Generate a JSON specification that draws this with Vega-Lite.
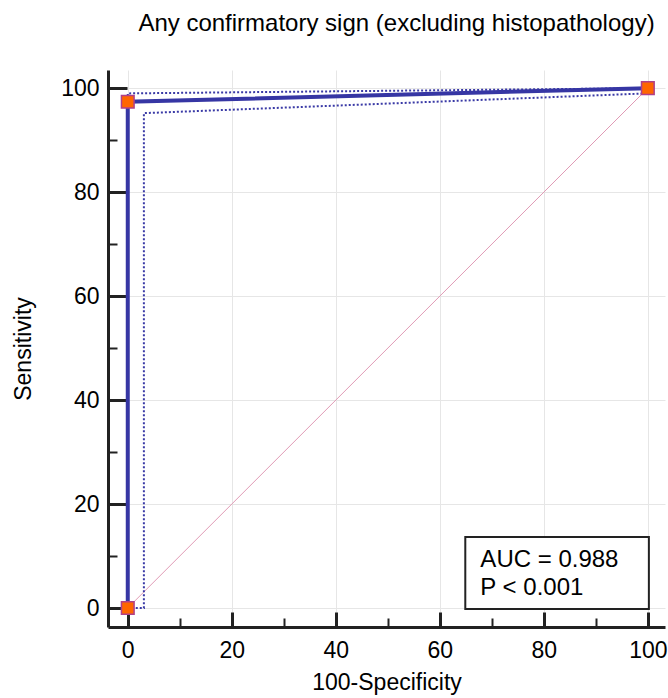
{
  "$schema": "https://vega.github.io/schema/vega-lite/v6.json",
  "autosize": "none",
  "width": 557,
  "height": 557,
  "padding": {"left": 108, "top": 70, "right": 3, "bottom": 71},
  "background": "white",
  "config": {
    "font": "Liberation Sans",
    "view": {"stroke": null},
    "axis": {
      "domainColor": "#222222",
      "domainWidth": 3,
      "tickColor": "#222222",
      "labelFont": "Liberation Sans",
      "titleFont": "Liberation Sans",
      "labelFontSize": 23,
      "titleFontSize": 23,
      "labelColor": "#000000",
      "titleColor": "#000000",
      "titleFontWeight": "normal",
      "gridColor": "#e6e6e6",
      "gridWidth": 1
    }
  },
  "title": {
    "text": "Any confirmatory sign (excluding histopathology)",
    "font": "Liberation Sans",
    "fontSize": 24,
    "fontWeight": "normal",
    "color": "#000000",
    "anchor": "middle",
    "dx": 10,
    "offset": 34
  },
  "datasets": {
    "roc": [
      {"fpr": 0, "tpr": 0, "idx": 0},
      {"fpr": 0, "tpr": 97.4, "idx": 1},
      {"fpr": 100, "tpr": 100, "idx": 2}
    ],
    "ci": [
      {"series": "upper", "fpr": 0, "tpr": 0, "idx": 0},
      {"series": "upper", "fpr": 0, "tpr": 99.0, "idx": 1},
      {"series": "upper", "fpr": 100, "tpr": 100, "idx": 2},
      {"series": "lower", "fpr": 0, "tpr": 0, "idx": 0},
      {"series": "lower", "fpr": 3.1, "tpr": 0, "idx": 1},
      {"series": "lower", "fpr": 3.1, "tpr": 95.2, "idx": 2},
      {"series": "lower", "fpr": 99.8, "tpr": 99.0, "idx": 3},
      {"series": "lower", "fpr": 100, "tpr": 100, "idx": 4}
    ],
    "diag": [
      {"fpr": 0, "tpr": 0},
      {"fpr": 100, "tpr": 100}
    ]
  },
  "layer": [
    {
      "data": {"name": "diag"},
      "mark": {"type": "line", "color": "#e09ab5", "strokeWidth": 1, "clip": true},
      "encoding": {
        "x": {
          "field": "fpr", "type": "quantitative",
          "scale": {"domain": [-3.8, 103.3], "nice": false, "zero": false},
          "axis": {
            "title": "100-Specificity",
            "values": [0,5,10,15,20,25,30,35,40,45,50,55,60,65,70,75,80,85,90,95,100],
            "labelExpr": "datum.value % 20 === 0 ? datum.label : ''",
            "tickSize": {"condition": {"test": "datum.value % 20 === 0", "value": -15}, "value": -9},
            "tickWidth": {"condition": {"test": "datum.value % 20 === 0", "value": 3}, "value": 2},
            "gridColor": {"condition": {"test": "datum.value % 20 === 0", "value": "#e6e6e6"}, "value": "transparent"},
            "grid": true,
            "labelPadding": 27,
            "titlePadding": 3,
            "labelFlush": false,
            "labelOverlap": false
          }
        },
        "y": {
          "field": "tpr", "type": "quantitative",
          "scale": {"domain": [-3.65, 103.5], "nice": false, "zero": false},
          "axis": {
            "title": "Sensitivity",
            "values": [0,5,10,15,20,25,30,35,40,45,50,55,60,65,70,75,80,85,90,95,100],
            "labelExpr": "datum.value % 20 === 0 ? datum.label : ''",
            "tickSize": {"condition": {"test": "datum.value % 20 === 0", "value": -19}, "value": -9},
            "tickWidth": {"condition": {"test": "datum.value % 20 === 0", "value": 3}, "value": 2},
            "gridColor": {"condition": {"test": "datum.value % 20 === 0", "value": "#e6e6e6"}, "value": "transparent"},
            "grid": true,
            "labelPadding": 28,
            "titlePadding": 25,
            "labelFlush": false,
            "labelOverlap": false
          }
        }
      }
    },
    {
      "data": {"name": "ci"},
      "mark": {"type": "line", "color": "#3a3aa6", "strokeWidth": 2, "strokeDash": [2, 2]},
      "encoding": {
        "x": {"field": "fpr", "type": "quantitative"},
        "y": {"field": "tpr", "type": "quantitative"},
        "detail": {"field": "series"},
        "order": {"field": "idx", "type": "quantitative"}
      }
    },
    {
      "data": {"name": "roc"},
      "mark": {"type": "line", "color": "#3636a4", "strokeWidth": 4},
      "encoding": {
        "x": {"field": "fpr", "type": "quantitative"},
        "y": {"field": "tpr", "type": "quantitative"},
        "order": {"field": "idx", "type": "quantitative"}
      }
    },
    {
      "data": {"name": "roc"},
      "mark": {"type": "square", "size": 160, "fill": "#ff6600", "stroke": "#b0408a", "strokeWidth": 1.5, "opacity": 1, "filled": true},
      "encoding": {
        "x": {"field": "fpr", "type": "quantitative"},
        "y": {"field": "tpr", "type": "quantitative"}
      }
    },
    {
      "data": {"values": [{}]},
      "mark": {"type": "rect", "fill": "white", "stroke": "#222222", "strokeWidth": 2},
      "encoding": {
        "x": {"datum": 64.9, "type": "quantitative"},
        "x2": {"datum": 100.2},
        "y": {"datum": 13.65, "type": "quantitative"},
        "y2": {"datum": -0.2}
      }
    },
    {
      "data": {"values": [{}]},
      "mark": {"type": "text", "align": "left", "baseline": "alphabetic", "fontSize": 24, "font": "Liberation Sans", "color": "#000000"},
      "encoding": {
        "x": {"datum": 67.8, "type": "quantitative"},
        "y": {"datum": 7.9, "type": "quantitative"},
        "text": {"value": "AUC = 0.988"}
      }
    },
    {
      "data": {"values": [{}]},
      "mark": {"type": "text", "align": "left", "baseline": "alphabetic", "fontSize": 24, "font": "Liberation Sans", "color": "#000000"},
      "encoding": {
        "x": {"datum": 67.8, "type": "quantitative"},
        "y": {"datum": 2.5, "type": "quantitative"},
        "text": {"value": "P < 0.001"}
      }
    }
  ]
}
